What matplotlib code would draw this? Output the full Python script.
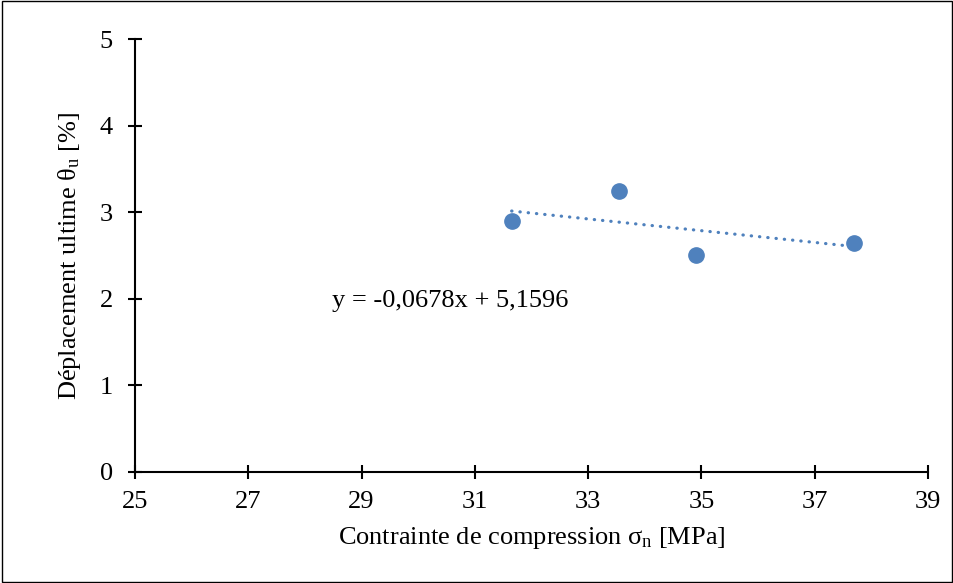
import numpy as np
import matplotlib.pyplot as plt
from matplotlib.patches import Rectangle

plt.rcParams['font.family'] = ['Liberation Serif', 'DejaVu Serif']
plt.rcParams['mathtext.fontset'] = 'custom'
plt.rcParams['mathtext.rm'] = 'Liberation Serif'
plt.rcParams['mathtext.it'] = 'Liberation Serif:italic'

# data
stress = [31.65, 33.55, 34.9, 37.7]
disp = [2.9, 3.25, 2.5, 2.65]
slope = -0.0678
intercept = 5.1596
x_ticks = [25, 27, 29, 31, 33, 35, 37, 39]
y_ticks = [0, 1, 2, 3, 4, 5]

blue = '#4F81BD'
fs = 19

fig = plt.figure(figsize=(9.54, 5.83), dpi=100)
ax = fig.add_axes([0.1415, 0.1904, 0.8312, 0.7427])

ax.plot(stress, disp, 'o', color=blue, markersize=11, zorder=3)

xt = np.array([min(stress), max(stress)])
ax.plot(xt, slope * xt + intercept, color=blue, lw=2.3,
        linestyle=(0, (0.1, 2.5)), dash_capstyle='round', zorder=2)

ax.text(28.48, 1.98, "y = -0,0678x + 5,1596", fontsize=fs,
        ha='left', va='center')

ax.set_xlim(25, 39)
ax.set_ylim(0, 5)
ax.set_xticks(x_ticks)
ax.set_yticks(y_ticks)
for s in ['top', 'right']:
    ax.spines[s].set_visible(False)
for s in ['left', 'bottom']:
    ax.spines[s].set_linewidth(1.5)
ax.tick_params(direction='inout', length=10, width=1.5, labelsize=fs)
ax.tick_params(axis='x', pad=9)
ax.tick_params(axis='y', pad=11)

ax.set_xlabel(r"Contrainte de compression σ$_\mathrm{n}$ [MPa]", fontsize=fs, labelpad=8)
ax.set_ylabel(r"Déplacement ultime θ$_\mathrm{u}$ [%]", fontsize=fs, labelpad=12)

# thin border around the whole figure
fig.patches.append(Rectangle((0.002, 0.002), 0.996, 0.996, transform=fig.transFigure,
                             fill=False, edgecolor='black', lw=1))

plt.savefig("out.png", dpi=100)
